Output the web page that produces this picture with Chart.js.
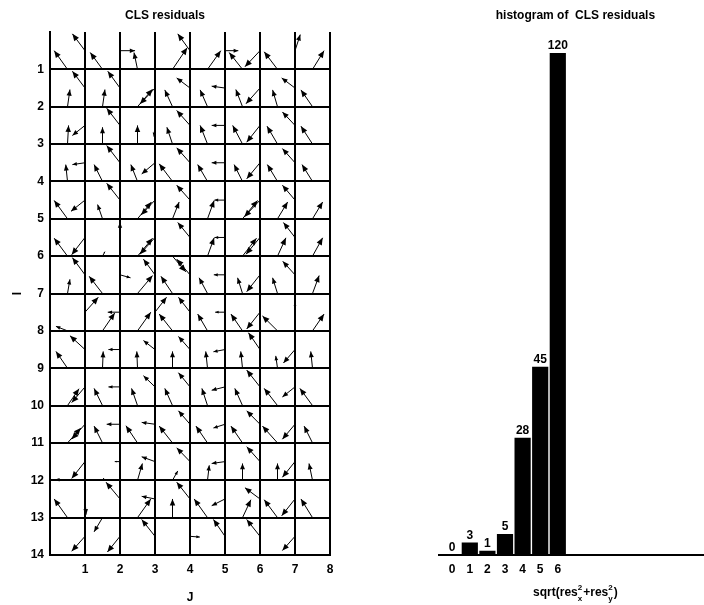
<!DOCTYPE html>
<html>
<head>
<meta charset="utf-8">
<script src="https://cdn.jsdelivr.net/npm/chart.js@4.4.1/dist/chart.umd.min.js"></script>
<style>
  html, body { margin: 0; padding: 0; background: #fff; overflow: hidden; width: 704px; height: 605px; }
  #quiver { position: absolute; left: 0; top: 0; }
  #hist { position: absolute; left: 400px; top: 0; }
</style>
</head>
<body>
<canvas id="quiver" width="352" height="605"></canvas>
<canvas id="hist" width="350" height="605"></canvas>
<script>
// residuals at the horizontal-edge nodes (J-0.5, I), I = 1..13, J = 1..8
const resXh = [
  [-0.38, -0.35, -0.10,  0.42,  0.38, -0.38, -0.38,  0.33],
  [ 0.07,  0.07,  0.43, -0.22, -0.21, -0.19, -0.14, -0.33],
  [ 0.03,  0.00,  0.00, -0.16, -0.21, -0.28, -0.30, -0.33],
  [-0.05, -0.24, -0.19, -0.38, -0.28, -0.24, -0.29, -0.30],
  [-0.38, -0.14,  0.40,  0.19,  0.19,  0.43,  0.29,  0.29],
  [-0.38,  0.07,  0.43,  0.38,  0.19,  0.40,  0.24,  0.29],
  [ 0.07, -0.38,  0.43, -0.33, -0.24, -0.14, -0.14,  0.19],
  [-0.33,  0.35,  0.38, -0.38, -0.28, -0.33, -0.43,  0.33],
  [-0.33,  0.02, -0.02,  0.00, -0.05, -0.05, -0.05, -0.05],
  [ 0.33, -0.24, -0.17, -0.22, -0.16, -0.22, -0.38, -0.36],
  [ 0.38, -0.24, -0.33, -0.38, -0.33, -0.33, -0.43, -0.24],
  [-0.35,  0.04,  0.14,  0.15,  0.05,  0.00,  0.00, -0.10],
  [-0.38, -0.24,  0.38,  0.00, -0.38,  0.24, -0.38, -0.33]
];
const resYh = [
  [-0.50, -0.45, -0.45, -0.58, -0.50, -0.45, -0.47, -0.50],
  [-0.46, -0.46, -0.47, -0.45, -0.45, -0.46, -0.45, -0.45],
  [-0.50, -0.45, -0.50, -0.45, -0.50, -0.50, -0.48, -0.48],
  [-0.45, -0.45, -0.45, -0.47, -0.45, -0.45, -0.45, -0.45],
  [-0.49, -0.38, -0.45, -0.45, -0.49, -0.49, -0.45, -0.45],
  [-0.48, -0.12, -0.48,  0.42, -0.49, -0.48, -0.49, -0.49],
  [-0.38, -0.46, -0.48, -0.46, -0.42, -0.42, -0.42, -0.48],
  [-0.12, -0.48, -0.50, -0.45, -0.45, -0.45, -0.40, -0.45],
  [-0.45, -0.45, -0.45, -0.45, -0.45, -0.45, -0.33, -0.45],
  [-0.45, -0.46, -0.46, -0.46, -0.46, -0.46, -0.46, -0.46],
  [-0.40, -0.45, -0.46, -0.45, -0.45, -0.45, -0.45, -0.45],
  [-0.02, -0.06, -0.45, -0.25, -0.40, -0.45, -0.45, -0.45],
  [-0.50,  0.38, -0.50, -0.50, -0.50, -0.48, -0.48, -0.50]
];
// residuals at the vertical-edge nodes (J, I-0.5), I = 1..14, J = 1..7
const resXv = [
  [-0.36,  0.43,  0.00, -0.35,  0.38, -0.43,  0.15],
  [-0.36, -0.35, -0.43, -0.38, -0.38, -0.40, -0.38],
  [-0.36, -0.38, -0.03, -0.38, -0.38, -0.38, -0.36],
  [-0.36, -0.38, -0.38, -0.38, -0.38, -0.38, -0.36],
  [-0.40, -0.38, -0.40, -0.38, -0.30, -0.45, -0.36],
  [-0.38,  0.00, -0.43, -0.35, -0.30, -0.40, -0.33],
  [-0.36,  0.30, -0.33, -0.38, -0.32, -0.38, -0.35],
  [ 0.38, -0.35,  0.33, -0.33, -0.28, -0.38,  0.00],
  [-0.43, -0.33, -0.33, -0.33, -0.33, -0.33, -0.33],
  [-0.38, -0.33, -0.33, -0.33, -0.38, -0.38, -0.36],
  [-0.38, -0.38, -0.38, -0.33, -0.33, -0.38, -0.36],
  [-0.38, -0.15, -0.38, -0.38, -0.38, -0.38, -0.36],
  [ 0.03, -0.40, -0.38, -0.38, -0.38, -0.43, -0.38],
  [-0.38, -0.36, -0.38,  0.28, -0.33, -0.38, -0.36]
];
const resYv = [
  [-0.45,  0.00,  0.03, -0.45,  0.00,  0.43, -0.43],
  [-0.45, -0.45,  0.43, -0.27, -0.05,  0.42, -0.27],
  [ 0.27, -0.46,  0.30, -0.40,  0.00,  0.45, -0.36],
  [ 0.05, -0.46,  0.30, -0.40,  0.00,  0.43, -0.38],
  [ 0.30, -0.45,  0.40, -0.40,  0.00,  0.45, -0.40],
  [ 0.46, -0.40,  0.45, -0.40,  0.00,  0.45, -0.40],
  [-0.46,  0.08, -0.42, -0.42,  0.00,  0.45, -0.36],
  [-0.40,  0.00, -0.40, -0.40,  0.00,  0.45, -0.25],
  [-0.37,  0.00, -0.24, -0.35,  0.06, -0.45,  0.36],
  [ 0.42,  0.00, -0.30, -0.38,  0.09, -0.45,  0.27],
  [ 0.40,  0.00, -0.05, -0.36,  0.10, -0.36,  0.40],
  [ 0.45,  0.00, -0.13, -0.37,  0.05, -0.40,  0.42],
  [ 0.42, -0.45, -0.07, -0.45,  0.18, -0.30,  0.45],
  [ 0.40,  0.42, -0.45,  0.02, -0.45, -0.45,  0.38]
];
const colTicks = [1, 2, 3, 4, 5, 6, 7, 8];
const rowTicks = [1, 2, 3, 4, 5, 6, 7, 8, 9, 10, 11, 12, 13, 14];

const histBins = [0, 1, 2, 3, 4, 5, 6];
const histCounts = [0, 3, 1, 5, 28, 45, 120];

const FONT = "'Liberation Sans', Arial, sans-serif";
Chart.defaults.font.family = FONT;
Chart.defaults.color = "#000";

// build quiver points from the arrays
const arrows = [];
resXh.forEach((row, i) => row.forEach((u, j) => {
  arrows.push({ x: j + 0.5, y: i + 1, u: u, v: resYh[i][j] });
}));
resXv.forEach((row, i) => row.forEach((u, j) => {
  arrows.push({ x: j + 1, y: i + 0.5, u: u, v: resYv[i][j] });
}));

const quiverArrows = {
  id: "quiverArrows",
  afterDatasetsDraw(chart) {
    const { ctx, scales: { x, y } } = chart;
    ctx.save();
    ctx.strokeStyle = "#000";
    ctx.fillStyle = "#000";
    ctx.lineWidth = 1;
    chart.data.datasets[0].data.forEach(p => {
      const x0 = x.getPixelForValue(p.x), y0 = y.getPixelForValue(p.y);
      const x1 = x.getPixelForValue(p.x + p.u), y1 = y.getPixelForValue(p.y + p.v);
      const len = Math.hypot(x1 - x0, y1 - y0);
      if (len < 1) return;
      ctx.beginPath();
      ctx.moveTo(x0, y0);
      ctx.lineTo(x1, y1);
      ctx.stroke();
      const ux = (x1 - x0) / len, uy = (y1 - y0) / len;
      const h = Math.min(7, len * 0.35), w = h * 0.42;
      ctx.beginPath();
      ctx.moveTo(x1, y1);
      ctx.lineTo(x1 - ux * h - uy * w, y1 - uy * h + ux * w);
      ctx.lineTo(x1 - ux * h + uy * w, y1 - uy * h - ux * w);
      ctx.closePath();
      ctx.fill();
    });
    ctx.restore();
  }
};

const tickFont = { family: FONT, size: 12, weight: "bold" };

new Chart("quiver", {
  type: "scatter",
  data: {
    datasets: [{ data: arrows, pointRadius: 0, pointHoverRadius: 0 }]
  },
  options: {
    responsive: false,
    animation: false,
    events: [],
    layout: { padding: { left: 0, right: 22, top: 0, bottom: 0 } },
    plugins: {
      legend: { display: false },
      tooltip: { enabled: false },
      title: {
        display: true,
        text: "CLS residuals",
        font: { family: FONT, size: 12, weight: "bold" },
        color: "#000",
        padding: { top: 8, bottom: 9.6 }
      }
    },
    scales: {
      x: {
        type: "linear",
        min: 0,
        max: 8,
        afterBuildTicks: s => { s.ticks = colTicks.map(v => ({ value: v })); },
        afterFit: s => { s.height = 50; },
        grid: { color: "#000", lineWidth: 2, drawTicks: false },
        border: { color: "#000", width: 2 },
        ticks: { font: tickFont, color: "#000", padding: 7, maxRotation: 0 },
        title: { display: true, text: "J", font: tickFont, color: "#000", padding: { top: 10, bottom: 0 } }
      },
      y: {
        type: "linear",
        reverse: true,
        min: 0,
        max: 14,
        afterBuildTicks: s => { s.ticks = rowTicks.map(v => ({ value: v })); },
        afterFit: s => { s.width = 50; },
        grid: { color: "#000", lineWidth: 2, drawTicks: false },
        border: { color: "#000", width: 2 },
        ticks: { font: tickFont, color: "#000", padding: 6 },
        title: { display: true, text: "I", font: tickFont, color: "#000", padding: { top: 10, bottom: 0 } }
      }
    }
  },
  plugins: [quiverArrows]
});

const barLabels = {
  id: "barLabels",
  afterDatasetsDraw(chart) {
    const { ctx } = chart;
    const meta = chart.getDatasetMeta(0);
    ctx.save();
    ctx.font = "bold 12px " + FONT;
    ctx.fillStyle = "#000";
    ctx.textAlign = "center";
    ctx.textBaseline = "bottom";
    meta.data.forEach((bar, i) => {
      ctx.fillText(String(histCounts[i]), bar.x, bar.y - 1);
    });
    ctx.restore();
  }
};

// x label with sub/superscripts: sqrt(res_x^2+res_y^2)
const histXLabel = {
  id: "histXLabel",
  afterDraw(chart) {
    const { ctx, chartArea } = chart;
    const parts = [
      { t: "sqrt(res", k: "main" },
      { t: "2", s: "x", k: "script" },
      { t: "+res", k: "main" },
      { t: "2", s: "y", k: "script" },
      { t: ")", k: "main" }
    ];
    const mainFont = "bold 12px " + FONT, smallFont = "bold 8px " + FONT;
    ctx.save();
    let total = 0;
    parts.forEach(p => {
      if (p.k === "main") { ctx.font = mainFont; p.w = ctx.measureText(p.t).width; }
      else { ctx.font = smallFont; p.w = Math.max(ctx.measureText(p.t).width, ctx.measureText(p.s).width) + 1; }
      total += p.w;
    });
    let cx = (chartArea.left + chartArea.right) / 2 - total / 2;
    const base = 596;
    ctx.fillStyle = "#000";
    ctx.textAlign = "left";
    ctx.textBaseline = "alphabetic";
    parts.forEach(p => {
      if (p.k === "main") {
        ctx.font = mainFont;
        ctx.fillText(p.t, cx, base);
      } else {
        ctx.font = smallFont;
        ctx.fillText(p.t, cx, base - 6);
        ctx.fillText(p.s, cx, base + 5);
      }
      cx += p.w;
    });
    ctx.restore();
  }
};

new Chart("hist", {
  type: "bar",
  data: {
    datasets: [{
      data: histBins.map((b, i) => ({ x: b, y: histCounts[i] })),
      backgroundColor: "#000",
      borderWidth: 0,
      barPercentage: 0.92,
      categoryPercentage: 1
    }]
  },
  options: {
    responsive: false,
    animation: false,
    events: [],
    layout: { padding: { left: 39, right: 38.2, top: 0, bottom: 0 } },
    plugins: {
      legend: { display: false },
      tooltip: { enabled: false },
      title: {
        display: true,
        text: "histogram of  CLS residuals",
        font: { family: FONT, size: 12, weight: "bold" },
        color: "#000",
        padding: { top: 8, bottom: 9.6 }
      }
    },
    scales: {
      x: {
        type: "linear",
        offset: false,
        min: -0.75,
        max: 14.75,
        afterBuildTicks: s => { s.ticks = histBins.map(v => ({ value: v })); },
        afterFit: s => { s.height = 50; },
        grid: { display: false, drawTicks: false, offset: false },
        border: { color: "#000", width: 2 },
        ticks: { font: tickFont, color: "#000", padding: 7, maxRotation: 0 }
      },
      y: {
        display: false,
        min: 0,
        max: 125
      }
    }
  },
  plugins: [barLabels, histXLabel]
});
</script>
</body>
</html>
